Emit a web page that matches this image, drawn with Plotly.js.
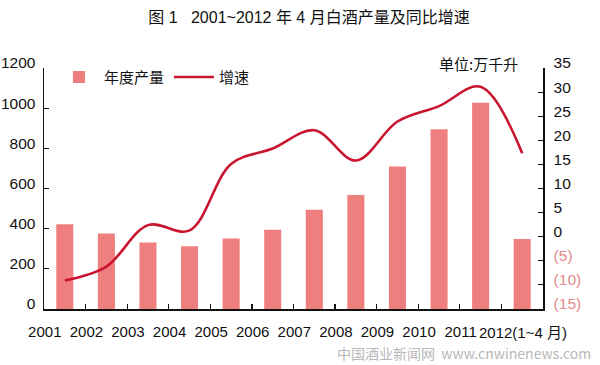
<!DOCTYPE html>
<html>
<head>
<meta charset="utf-8">
<script src="https://cdn.plot.ly/plotly-3.0.1.min.js"></script>
<style>html,body{margin:0;padding:0;background:#fff;}#chart{width:600px;height:365px;}</style>
</head>
<body>
<div id="chart"></div>
<script>
const years = ['2001','2002','2003','2004','2005','2006','2007','2008','2009','2010','2011','2012'];
const xTickText = ['2001','2002','2003','2004','2005','2006','2007','2008','2009','2010','2011',''];
const lastLabel = '2012(1~4 月)';
const output = [422, 376, 331, 312, 351, 394, 494, 568, 709, 895, 1027, 349];
const growth = [-9.1, -6.2, 2.4, 1.3, 15.1, 18.3, 22.1, 15.8, 23.9, 27.1, 31.1, 17.3];
const leftTicks = [0, 200, 400, 600, 800, 1000, 1200];
const rightTicks = [-15, -10, -5, 0, 5, 10, 15, 20, 25, 30, 35];
const rightTickText = ['(15)', '(10)', '(5)', '0', '5', '10', '15', '20', '25', '30', '35'];

const FONT = 'Liberation Sans, Arial, "Noto Sans CJK SC", sans-serif';
const BAR = '#ef7f7e';
const LINE = '#c8142e';
const NEG = '#e58a8a';

const rightText = rightTickText.map((t, i) => rightTicks[i] < 0 ? '<span style="color:' + NEG + '">' + t + '</span>' : t);

const data = [
  {type: 'bar', x: years, y: output, name: '年度产量', marker: {color: BAR}, yaxis: 'y'},
  {type: 'scatter', mode: 'lines', x: years, y: growth, name: '增速', yaxis: 'y2',
   line: {color: LINE, width: 2.6, shape: 'spline', smoothing: 1}}
];

const layout = {
  width: 600, height: 365,
  margin: {l: 44, r: 57, t: 68, b: 56},
  paper_bgcolor: '#fff', plot_bgcolor: '#fff',
  font: {family: FONT, size: 15, color: '#111'},
  bargap: 0.59,
  showlegend: true,
  legend: {orientation: 'h', x: 0.02, y: 1.03, xanchor: 'left', yanchor: 'top',
           font: {family: '"Noto Sans CJK SC", sans-serif', size: 15, color: '#111'},
           bgcolor: 'rgba(0,0,0,0)', itemwidth: 40, traceorder: 'normal'},
  title: {text: '图 1   2001~2012 年 4 月白酒产量及同比增速', x: 0.515, xanchor: 'center', y: 0.953, yanchor: 'middle',
          font: {family: FONT, size: 16, color: '#111'}},
  xaxis: {type: 'category', categoryorder: 'array', categoryarray: years, range: [-0.5, 11.5], autorange: false,
          tickmode: 'array', tickvals: years, ticktext: xTickText, tickangle: 0,
          tickson: 'boundaries', ticks: 'inside', ticklen: 5, tickcolor: '#111', tickwidth: 1.2,
          showline: true, linecolor: '#111', linewidth: 1.5, showgrid: false, zeroline: false,
          ticklabelshift: -20, ticklabelstandoff: 8, tickfont: {family: FONT, size: 15}},
  yaxis: {range: [0, 1200], autorange: false, tickmode: 'array', tickvals: leftTicks, ticks: 'inside', ticklen: 5, tickcolor: '#111',
          showline: true, linecolor: '#111', linewidth: 1.5, showgrid: false, zeroline: false,
          tickfont: {family: FONT, size: 15.5}, ticklabelstandoff: 4, ticklabelshift: -5},
  yaxis2: {overlaying: 'y', side: 'right', range: [-15, 35], autorange: false, tickmode: 'array', tickvals: rightTicks, ticktext: rightText,
           ticks: 'inside', ticklen: 5, tickcolor: '#111',
           showline: true, linecolor: '#111', linewidth: 1.5, showgrid: false, zeroline: false,
           tickfont: {family: FONT, size: 15.5}, ticklabelstandoff: 6, ticklabelshift: -5},
  annotations: [
    {text: lastLabel, x: 11, xref: 'x', y: 0, yref: 'paper', xanchor: 'left', yanchor: 'top',
     xshift: -45, yshift: -13, showarrow: false, font: {family: FONT, size: 15, color: '#111'}},
    {text: '单位:万千升', x: 0.953, xref: 'paper', y: 1.02, yref: 'paper', xanchor: 'right', yanchor: 'middle',
     showarrow: false, font: {family: '"Noto Sans CJK SC", sans-serif', size: 15, color: '#111'}},
    {text: '中国酒业新闻网  www.cnwinenews.com', x: 1, xref: 'paper', y: 0, yref: 'paper', xanchor: 'right', yanchor: 'top',
     xshift: 50, yshift: -32, showarrow: false, font: {family: '"Noto Sans CJK SC", sans-serif', size: 14, color: '#b8b8b8'}}
  ]
};

Plotly.newPlot('chart', data, layout, {displayModeBar: false, staticPlot: true});
</script>
</body>
</html>
